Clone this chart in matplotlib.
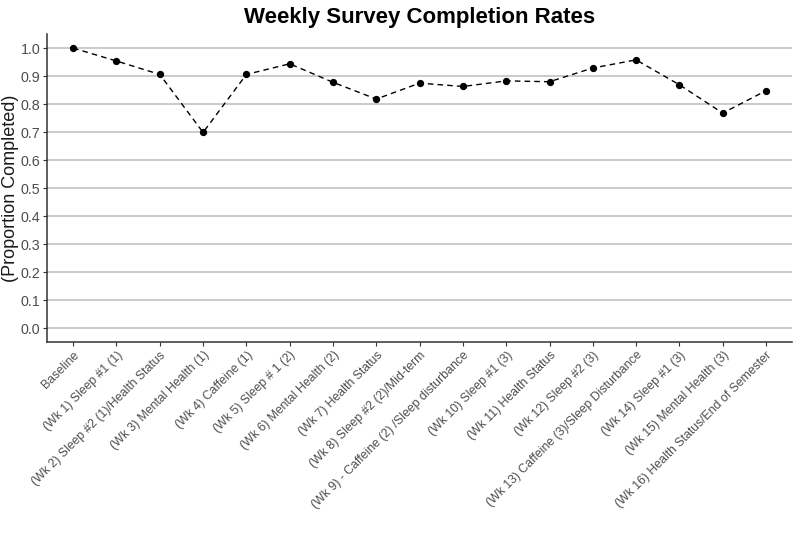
import matplotlib.pyplot as plt
import numpy as np

plt.rcParams['font.family'] = ['Liberation Sans', 'DejaVu Sans']

weeks = ["Baseline", "(Wk 1) Sleep #1 (1)", "(Wk 2) Sleep #2 (1)/Health Status",
         "(Wk 3) Mental Health (1)", "(Wk 4) Caffeine (1)", "(Wk 5) Sleep # 1 (2)",
         "(Wk 6) Mental Health (2)", "(Wk 7) Health Status", "(Wk 8) Sleep #2 (2)/Mid-term",
         "(Wk 9) - Caffeine (2) /Sleep disturbance", "(Wk 10) Sleep #1 (3)",
         "(Wk 11) Health Status", "(Wk 12) Sleep #2 (3)", "(Wk 13) Caffeine (3)/Sleep Disturbance",
         "(Wk 14) Sleep #1 (3)", "(Wk 15) Mental Health (3)", "(Wk 16) Health Status/End of Semester"]
completed = [1.0, 0.954, 0.906, 0.699, 0.906, 0.944, 0.878, 0.818, 0.875,
             0.863, 0.883, 0.880, 0.929, 0.958, 0.869, 0.768, 0.848]
yticks = [0.0, 0.1, 0.2, 0.3, 0.4, 0.5, 0.6, 0.7, 0.8, 0.9, 1.0]

fig = plt.figure(figsize=(8, 5.33), dpi=100)
ax = fig.add_axes([0.059, 0.358, 0.931, 0.578])

x = np.arange(len(weeks))
ax.plot(x, completed, color='black', linestyle='--', dashes=(4, 3), lw=1.0, zorder=3)
ax.scatter(x, completed, color='black', s=18, zorder=4)

ax.set_xlim(-0.6, len(weeks) - 0.4)
ax.set_ylim(-0.05, 1.05)
ax.set_yticks(yticks)
ax.set_yticklabels([f"{v:.1f}" for v in yticks])
ax.set_xticks(x)
ax.set_xticklabels(weeks, rotation=45, ha='right', rotation_mode='anchor')

ax.yaxis.grid(True, color='#bdbdbd', lw=1.1)
ax.set_axisbelow(True)
for s in ['top', 'right']:
    ax.spines[s].set_visible(False)
for s in ['left', 'bottom']:
    ax.spines[s].set_color('#333333')
    ax.spines[s].set_linewidth(1.1)
ax.tick_params(axis='both', colors='#333333', labelcolor='#4d4d4d', length=3, pad=2)
ax.tick_params(axis='y', labelsize=10.3)
ax.tick_params(axis='x', labelsize=8.8)

ax.set_ylabel("(Proportion Completed)", fontsize=13, color='#1a1a1a')
ax.yaxis.set_label_coords(-0.038, 0.5)
ax.set_title("Weekly Survey Completion Rates", fontsize=16, fontweight='bold', pad=8)

fig.savefig("out.png", dpi=100)
